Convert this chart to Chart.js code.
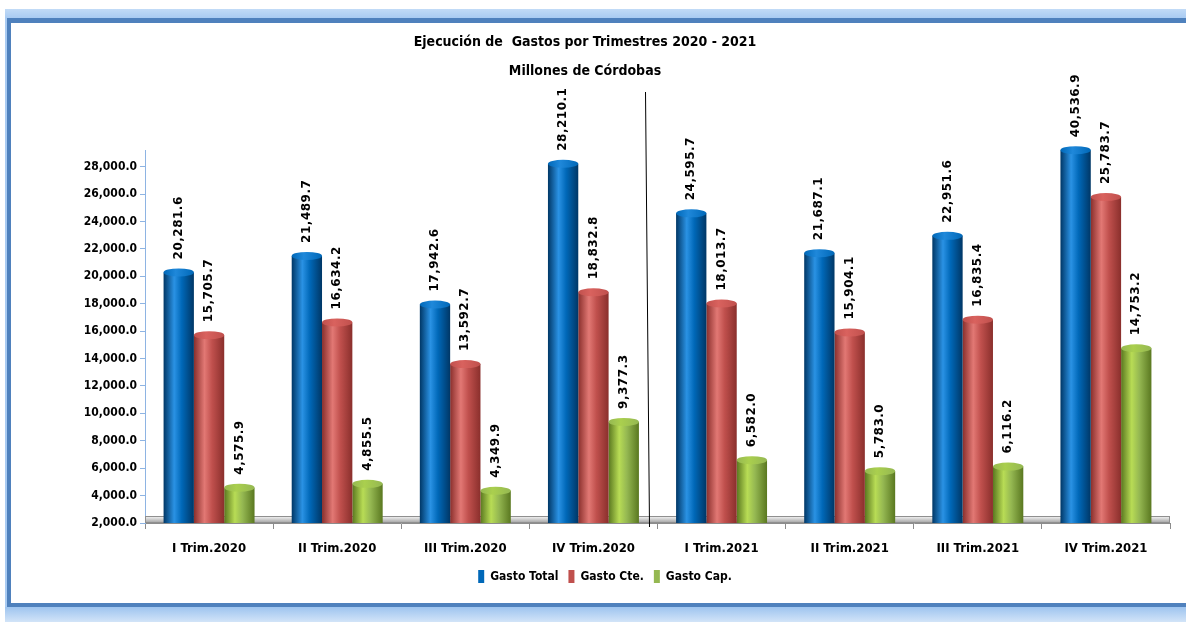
<!DOCTYPE html>
<html><head><meta charset="utf-8">
<script src="https://cdn.jsdelivr.net/npm/chart.js@4.4.1/dist/chart.umd.min.js"></script>
<style>
html,body{margin:0;padding:0;background:#fff;overflow:hidden}
#wrap{position:relative;width:1186px;height:622px;background:#fff}
canvas{position:absolute;left:0;top:0}
.f{position:absolute}
</style></head><body>
<div id="wrap">
<canvas id="c" width="1186" height="622"></canvas>
<div class="f" style="left:5px;top:9px;width:1181px;height:9px;background:linear-gradient(#c2dbf7,#a9cbf2)"></div>
<div class="f" style="left:7px;top:18px;width:1179px;height:5px;background:#4f81bd"></div>
<div class="f" style="left:5px;top:18px;width:2px;height:589px;background:#a9cbf2"></div>
<div class="f" style="left:7px;top:18px;width:4px;height:589px;background:#4f81bd"></div>
<div class="f" style="left:7px;top:603px;width:1179px;height:4px;background:#4f81bd"></div>
<div class="f" style="left:5px;top:607px;width:1181px;height:15px;background:linear-gradient(#9ec4ef,#d2e4f8)"></div>
</div>
<script>
const categories = ['I Trim.2020','II Trim.2020','III Trim.2020','IV Trim.2020','I Trim.2021','II Trim.2021','III Trim.2021','IV Trim.2021'];
const seriesNames = ['Gasto Total','Gasto Cte.','Gasto Cap.'];
const gastoTotal = [20281.6, 21489.7, 17942.6, 28210.1, 24595.7, 21687.1, 22951.6, 40536.9];
const gastoCte   = [15705.7, 16634.2, 13592.7, 18832.8, 18013.7, 15904.1, 16835.4, 25783.7];
const gastoCap   = [4575.9, 4855.5, 4349.9, 9377.3, 6582.0, 5783.0, 6116.2, 14753.2];
const yTicks = [2000,4000,6000,8000,10000,12000,14000,16000,18000,20000,22000,24000,26000,28000];
const titleText = 'Ejecución de  Gastos por Trimestres 2020 - 2021';
const subtitleText = 'Millones de Córdobas';

const NARROW = "'Liberation Sans Narrow','DejaVu Sans Condensed','Arial Narrow',sans-serif";
const palettes = [
  {base:'#0068b8', dark:'#003766', light:'#2a92e4', cap:'#1f88da'},
  {base:'#c0504d', dark:'#8a2f2c', light:'#e27874', cap:'#d9625e'},
  {base:'#95b852', dark:'#5a7820', light:'#b8dc55', cap:'#aacf4e'}
];
const fmt = v => Number(v).toLocaleString('en-US',{minimumFractionDigits:1,maximumFractionDigits:1});

function cylGrad(ctx, x0, x1, p){
  const g = ctx.createLinearGradient(x0,0,x1,0);
  g.addColorStop(0,p.dark); g.addColorStop(0.35,p.light); g.addColorStop(0.6,p.base); g.addColorStop(1,p.dark);
  return g;
}

const cylinderPlugin = {
  id:'cyl',
  afterLayout(chart){
    if (chart.legend){ chart.legend.left += 20; chart.legend.right += 20; }
  },
  beforeDatasetsDraw(chart){
    const {ctx, chartArea:a} = chart;
    ctx.save();
    const g = ctx.createLinearGradient(0,a.bottom-6,0,a.bottom);
    g.addColorStop(0,'#ececec'); g.addColorStop(1,'#a0a0a0');
    ctx.fillStyle = g;
    ctx.fillRect(a.left, a.bottom-6, a.right-a.left, 6);
    ctx.strokeStyle = '#8f8f8f'; ctx.lineWidth = 1;
    ctx.strokeRect(a.left+0.5, a.bottom-6.5, a.right-a.left-1, 6);
    ctx.restore();
    chart.data.datasets.forEach((ds,i)=>{
      chart.getDatasetMeta(i).data.forEach(el=>{
        const w = el.width;
        el.options.backgroundColor = cylGrad(ctx, el.x-w/2, el.x+w/2, palettes[i]);
      });
    });
  },
  afterDatasetsDraw(chart){
    const {ctx, chartArea:a} = chart;
    chart.data.datasets.forEach((ds,i)=>{
      chart.getDatasetMeta(i).data.forEach((el,j)=>{
        const w = el.width, top = Math.max(el.y, a.top);
        ctx.save();
        ctx.beginPath();
        ctx.ellipse(el.x, top, w/2, 4, 0, 0, Math.PI*2);
        const g = ctx.createLinearGradient(el.x-w/2,0,el.x+w/2,0);
        g.addColorStop(0,palettes[i].base); g.addColorStop(0.4,palettes[i].cap); g.addColorStop(1,palettes[i].base);
        ctx.fillStyle = g; ctx.fill();
        ctx.translate(el.x, top-4-9);
        ctx.rotate(-Math.PI/2);
        ctx.font = "bold 12px 'DejaVu Sans'";
        try { ctx.letterSpacing = '0.5px'; } catch(e) {}
        ctx.fillStyle = '#000'; ctx.textAlign = 'left'; ctx.textBaseline = 'middle';
        ctx.fillText(fmt(ds.data[j]), 0, 0);
        ctx.restore();
      });
    });
  },
  afterDraw(chart){
    const {ctx} = chart; const x = chart.scales.x;
    const xb = (x.getPixelForValue(3)+x.getPixelForValue(4))/2;
    ctx.save();
    ctx.strokeStyle = '#000'; ctx.lineWidth = 1;
    ctx.beginPath(); ctx.moveTo(xb-12, 92); ctx.lineTo(xb-8, 527); ctx.stroke();
    ctx.restore();
  }
};

const seriesData = [gastoTotal, gastoCte, gastoCap];
new Chart(document.getElementById('c'), {
  type:'bar',
  data:{
    labels: categories,
    datasets: seriesNames.map((n,i)=>({
      label: n,
      data: seriesData[i],
      backgroundColor: () => palettes[i].base,
      borderWidth: 0,
      categoryPercentage: 0.71,
      barPercentage: 1.0
    }))
  },
  options:{
    responsive:false, animation:false, events:[],
    layout:{padding:{left:0,right:16,top:0,bottom:29}},
    plugins:{
      title:{display:true, text:titleText, color:'#000', font:{family:NARROW,size:14,weight:'bold',lineHeight:1.2}, padding:{top:33.6,bottom:12.4}},
      subtitle:{display:true, text:subtitleText, color:'#000', font:{family:NARROW,size:14,weight:'bold',lineHeight:1.2}, padding:{top:0,bottom:70.6}},
      legend:{position:'bottom', labels:{boxWidth:6, boxHeight:13, padding:10, color:'#000', font:{family:NARROW,size:12,weight:'bold'}}},
      tooltip:{enabled:false}
    },
    scales:{
      x:{
        afterFit: s => { s.height = 37; },
        border:{color:'#8c8c8c'},
        grid:{offset:true, drawOnChartArea:false, tickLength:6, color:'#8c8c8c'},
        ticks:{color:'#000', font:{family:NARROW,size:13,weight:'bold'}, padding:12, maxRotation:0, autoSkip:false}
      },
      y:{
        min:2000, max:29200,
        afterBuildTicks: s => { s.ticks = yTicks.map(v=>({value:v})); },
        afterFit: s => { s.width = 145; },
        border:{color:'#8eb4e3'},
        grid:{drawOnChartArea:false, tickLength:5, color:'#8eb4e3'},
        ticks:{color:'#000', font:{family:NARROW,size:12,weight:'bold'}, padding:3, callback: v => fmt(v)}
      }
    }
  },
  plugins:[cylinderPlugin]
});
</script>
</body></html>
